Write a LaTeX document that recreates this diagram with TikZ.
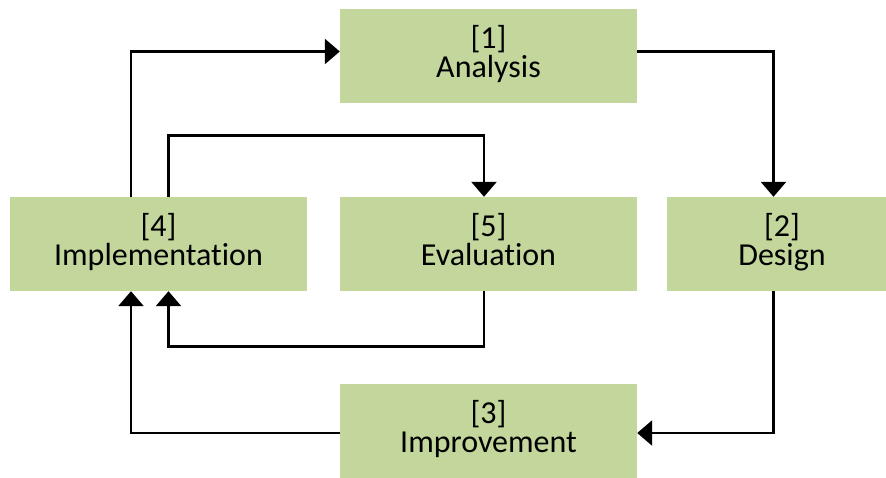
\documentclass[tikz,border=0pt]{standalone}
\usepackage{fontspec}
\setmainfont{Carlito}[RawFeature={-liga;-dlig;-clig}]
\usetikzlibrary{arrows.meta}
\definecolor{boxgreen}{RGB}{195,214,155}
\begin{document}
\begin{tikzpicture}[x=1pt,y=-1pt,
  box/.style={fill=boxgreen, draw=none, minimum height=94pt, inner sep=0pt,
    align=center, font=\fontsize{32}{29}\selectfont, text height=52pt, text depth=10pt},
  wbox/.style={box, minimum width=297pt},
  conn/.style={line width=2.7pt, draw=black, -{Triangle[width=25pt,length=15pt]}}]
\useasboundingbox (0,0) rectangle (886,477);
\fill[white] (0,0) rectangle (886,477);
\node[wbox] (n1) at (488.5,56) {[1]\\Analysis};
\node[box, minimum width=230pt] (n2) at (782,244) {[2]\\Design};
\node[wbox] (n3) at (488.5,431) {[3]\\Improvement};
\node[wbox] (n4) at (158.5,244) {[4]\\Implementation};
\node[wbox] (n5) at (488.5,244) {[5]\\Evaluation};
\draw[conn] ([yshift=4.5pt]n1.east) -| ([xshift=-8.5pt]n2.north);
\draw[conn] ([xshift=-8.5pt]n2.south) |- ([yshift=-2pt]n3.east);
\draw[conn] ([yshift=-2pt]n3.west) -| ([xshift=-27.5pt]n4.south);
\draw[conn] ([xshift=-27.5pt]n4.north) |- ([yshift=4.5pt]n1.west);
\draw[conn] ([xshift=10pt]n4.north) -- ++(0,-61) -| ([xshift=-4.5pt]n5.north);
\draw[conn] ([xshift=-4.5pt]n5.south) -- ++(0,55) -| ([xshift=10pt]n4.south);
\end{tikzpicture}
\end{document}
